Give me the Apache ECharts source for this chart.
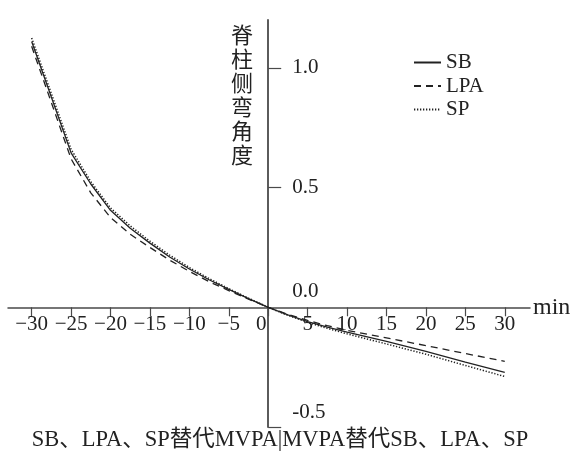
<!DOCTYPE html>
<html>
<head>
<meta charset="utf-8">
<script src="https://cdn.jsdelivr.net/npm/echarts@6/dist/echarts.min.js"></script>
<style>html,body{margin:0;padding:0;background:#fff}#chart{width:574px;height:452px}</style>
</head>
<body>
<div id="chart"></div>
<script>
// ---- data ----
const xValues = [-30, -25, -22.5, -20, -17.5, -15, -12.5, -10, -7.5, -5, -2.5, 0, 2.5, 5, 7.5, 10, 15, 20, 25, 30];
const sbValues  = [1.11, 0.645, 0.515, 0.405, 0.33, 0.268, 0.21, 0.16, 0.115, 0.075, 0.036, 0, -0.032, -0.06, -0.083, -0.104, -0.142, -0.184, -0.229, -0.272];
const lpaValues = [1.09, 0.62, 0.478, 0.375, 0.305, 0.25, 0.197, 0.15, 0.107, 0.07, 0.034, 0, -0.03, -0.055, -0.077, -0.096, -0.128, -0.16, -0.193, -0.226];
const spValues  = [1.125, 0.66, 0.525, 0.415, 0.34, 0.276, 0.218, 0.166, 0.12, 0.078, 0.038, 0, -0.034, -0.063, -0.088, -0.111, -0.153, -0.196, -0.243, -0.289];
const seriesNames = ['SB', 'LPA', 'SP'];
const xTickValues = [-30, -25, -20, -15, -10, -5, 0, 5, 10, 15, 20, 25, 30];
const yTickValues = [-0.5, 0, 0.5, 1.0];
const yTickLabels = ['-0.5', '0.0', '0.5', '1.0'];
const xAxisName = 'min';
const yAxisTitle = '脊柱侧弯角度';
const bottomTitle = 'SB、LPA、SP替代MVPA|MVPA替代SB、LPA、SP';

const SERIF = "'Liberation Serif', 'Noto Sans CJK SC', serif";
const INK = '#222';
const AXIS = '#4a4a4a';

// axis ranges and grid box
const X_MIN = -33, X_MAX = 33.2, Y_MIN = -0.5, Y_MAX = 1.2;
const W = 574, H = 452;
const G = { left: 8, right: 44, top: 20, bottom: 25 };
const gridW = W - G.left - G.right, gridH = H - G.top - G.bottom;
// shift axes so they cross at the origin (labels follow the axes)
const yAxisOffset = -gridW * (0 - X_MIN) / (X_MAX - X_MIN);
const xAxisOffset = -gridH * (0 - Y_MIN) / (Y_MAX - Y_MIN);

const toPairs = vals => xValues.map((x, i) => [x, vals[i]]);
const styles = [
  { type: 'solid', width: 1.3 },
  { type: [7, 5], width: 1.3 },
  { type: [1.3, 1.7], width: 1.5 }
];

const chart = echarts.init(document.getElementById('chart'), null, { renderer: 'canvas' });
chart.setOption({
  animation: false,
  backgroundColor: '#fff',
  grid: Object.assign({ containLabel: false }, G),
  legend: {
    orient: 'vertical',
    left: 408, top: 47,
    itemWidth: 27, itemHeight: 14, itemGap: 2.5,
    itemStyle: { opacity: 0 },
    textStyle: { fontFamily: SERIF, fontSize: 21, color: INK, lineHeight: 21 },
    data: seriesNames
  },
  xAxis: {
    type: 'value', min: X_MIN, max: X_MAX, position: 'bottom', offset: xAxisOffset,
    name: xAxisName, nameLocation: 'end', nameGap: 3,
    nameTextStyle: { fontFamily: SERIF, fontSize: 24, color: INK, verticalAlign: 'middle' },
    axisLine: { onZero: false, lineStyle: { color: AXIS, width: 1.5 } },
    axisTick: { show: true, inside: false, length: 9, customValues: xTickValues, lineStyle: { color: AXIS, width: 1.2 } },
    axisLabel: {
      customValues: xTickValues, margin: 7,
      fontFamily: SERIF, fontSize: 21, color: INK,
      formatter: v => v === 0 ? '{zero|0}' : String(v).replace('-', '\u2212'),
      rich: { zero: { fontFamily: SERIF, fontSize: 21, color: INK, padding: [0, 14, 0, 0] } }
    },
    splitLine: { show: false }
  },
  yAxis: {
    type: 'value', min: Y_MIN, max: Y_MAX, position: 'left', offset: yAxisOffset,
    axisLine: { onZero: false, lineStyle: { color: AXIS, width: 1.8 } },
    axisTick: { show: true, inside: true, length: 13, customValues: [-0.5, 0.5, 1.0], lineStyle: { color: AXIS, width: 1.2 } },
    axisLabel: {
      inside: true, margin: 24, customValues: yTickValues,
      fontFamily: SERIF, fontSize: 21, color: INK,
      formatter: v => {
        const i = yTickValues.findIndex(t => Math.abs(t - v) < 1e-9);
        const s = i >= 0 ? yTickLabels[i] : '';
        if (v === 0) return '{up|' + s + '}';
        if (v < 0) return '{low|' + s + '}';
        return s;
      },
      rich: {
        up: { fontFamily: SERIF, fontSize: 21, color: INK, padding: [0, 0, 32, 0] },
        low: { fontFamily: SERIF, fontSize: 21, color: INK, padding: [0, 0, 30, 0] }
      }
    },
    splitLine: { show: false }
  },
  graphic: [
    {
      type: 'text', left: 231, top: 23,
      style: {
        text: yAxisTitle.split('').join('\n'),
        font: "22px 'Noto Sans CJK SC'", lineHeight: 24,
        fill: INK, align: 'center'
      }
    },
    {
      type: 'text', x: 280, y: 440,
      style: {
        text: bottomTitle, fontFamily: SERIF, fontSize: 22.5,
        fill: INK, align: 'center', verticalAlign: 'middle'
      }
    }
  ],
  series: seriesNames.map((name, k) => ({
    name, type: 'line',
    data: toPairs([sbValues, lpaValues, spValues][k]),
    showSymbol: false, symbol: 'none', smooth: false,
    lineStyle: Object.assign({ color: INK }, styles[k]),
    itemStyle: { color: INK },
    emphasis: { disabled: true }
  }))
});
</script>
</body>
</html>
